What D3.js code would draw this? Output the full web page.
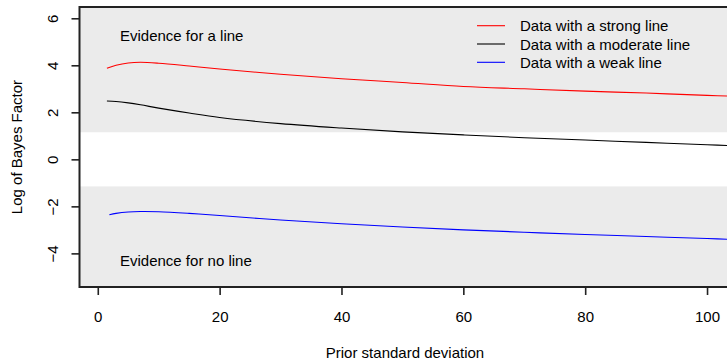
<!DOCTYPE html>
<html>
<head>
<meta charset="utf-8">
<script src="https://cdn.jsdelivr.net/npm/d3@7"></script>
<style>
  html, body { margin: 0; padding: 0; background: #fff; }
  svg { display: block; font-family: "Liberation Sans", Arial, Helvetica, sans-serif; }
</style>
</head>
<body>
<svg id="chart" width="727" height="359"></svg>
<script>
// Prior standard deviation grid
const priorSd = [1.5, 3, 5, 7, 10, 15, 20, 30, 40, 50, 60, 70, 80, 90, 100, 105];
const strongLine   = [3.87, 4.00, 4.10, 4.13, 4.09, 3.97, 3.84, 3.62, 3.43, 3.27, 3.10, 3.00, 2.90, 2.82, 2.72, 2.68];
const moderateLine = [2.48, 2.46, 2.40, 2.32, 2.18, 1.97, 1.78, 1.52, 1.33, 1.17, 1.04, 0.92, 0.82, 0.72, 0.62, 0.57];
const weakSd   = [1.9, 3, 5, 7, 10, 15, 20, 30, 40, 50, 60, 70, 80, 90, 100, 105];
const weakLine = [-2.36, -2.30, -2.24, -2.22, -2.23, -2.30, -2.39, -2.58, -2.74, -2.88, -3.00, -3.10, -3.20, -3.28, -3.37, -3.41];

const xTicks = [0, 20, 40, 60, 80, 100];
const yTicks = [-4, -2, 0, 2, 4, 6];
const threshold = Math.log(Math.sqrt(10)); // substantial-evidence cutoff

const seriesNames  = ["Data with a strong line", "Data with a moderate line", "Data with a weak line"];
const seriesColors = ["#ff0000", "#000000", "#0000ff"];

const svg = d3.select("#chart");
const plotL = 79.5, plotR = 737.5, plotT = 7, plotB = 287;

const x = d3.scaleLinear().domain([-3, 105]).range([plotL, plotR]);
const y = d3.scaleLinear().domain([-5.43, 6.48]).range([plotB, plotT]);

// evidence regions
svg.append("rect").attr("x", plotL).attr("y", plotT)
  .attr("width", plotR - plotL).attr("height", y(threshold) - plotT).attr("fill", "#ebebeb");
svg.append("rect").attr("x", plotL).attr("y", y(-threshold))
  .attr("width", plotR - plotL).attr("height", plotB - y(-threshold)).attr("fill", "#ebebeb");

svg.append("text").attr("x", 120).attr("y", 41).attr("font-size", 15).attr("fill", "#000")
  .text("Evidence for a line");
svg.append("text").attr("x", 120).attr("y", 266).attr("font-size", 15).attr("fill", "#000")
  .text("Evidence for no line");

// curves
const line = d3.line().x(d => x(d[0])).y(d => y(d[1])).curve(d3.curveCatmullRom.alpha(0.5));
const series = [
  d3.zip(priorSd, strongLine),
  d3.zip(priorSd, moderateLine),
  d3.zip(weakSd, weakLine)
];
series.forEach((s, i) => {
  svg.append("path").datum(s).attr("d", line)
    .attr("fill", "none").attr("stroke", seriesColors[i]).attr("stroke-width", 1.1);
});

// plot frame
svg.append("rect").attr("x", plotL).attr("y", plotT)
  .attr("width", plotR - plotL).attr("height", plotB - plotT)
  .attr("fill", "none").attr("stroke", "#222").attr("stroke-width", 2);

// axes
const xAxis = d3.axisBottom(x).tickValues(xTicks).tickSize(8).tickPadding(14).tickFormat(d3.format("d"));
const gx = svg.append("g").attr("transform", `translate(0,${plotB})`).call(xAxis);
gx.select(".domain").remove();
gx.selectAll(".tick line").attr("stroke", "#222").attr("stroke-width", 1.6);
gx.selectAll(".tick text").attr("font-size", 15).attr("font-family", null).attr("fill", "#000")
  .attr("dy", null).attr("y", 29).attr("dominant-baseline", "central");

const yAxis = d3.axisLeft(y).tickValues(yTicks).tickSize(8).tickFormat(d => d < 0 ? "\u2212" + Math.abs(d) : d);
const gy = svg.append("g").attr("transform", `translate(${plotL},0)`).call(yAxis);
gy.select(".domain").remove();
gy.selectAll(".tick line").attr("stroke", "#222").attr("stroke-width", 1.6);
gy.selectAll(".tick text").attr("font-size", 15).attr("font-family", null).attr("fill", "#000")
  .attr("x", null).attr("dy", null).attr("text-anchor", "middle").attr("dominant-baseline", "central")
  .attr("transform", "translate(-27,0) rotate(-90)");

// axis titles
svg.append("text").attr("x", 405).attr("y", 352).attr("text-anchor", "middle")
  .attr("dominant-baseline", "central").attr("font-size", 15).attr("fill", "#000")
  .text("Prior standard deviation");
svg.append("text").attr("transform", `translate(16,${(plotT + plotB) / 2}) rotate(-90)`)
  .attr("text-anchor", "middle").attr("dominant-baseline", "central")
  .attr("font-size", 15).attr("fill", "#000").text("Log of Bayes Factor");

// legend
const legend = svg.append("g");
seriesNames.forEach((name, i) => {
  const ly = 25.7 + i * 18.3;
  legend.append("line").attr("x1", 477).attr("x2", 505).attr("y1", ly).attr("y2", ly)
    .attr("stroke", seriesColors[i]).attr("stroke-width", 1.1);
  legend.append("text").attr("x", 520).attr("y", ly).attr("dominant-baseline", "central")
    .attr("font-size", 15).attr("fill", "#000").text(name);
});
</script>
</body>
</html>
